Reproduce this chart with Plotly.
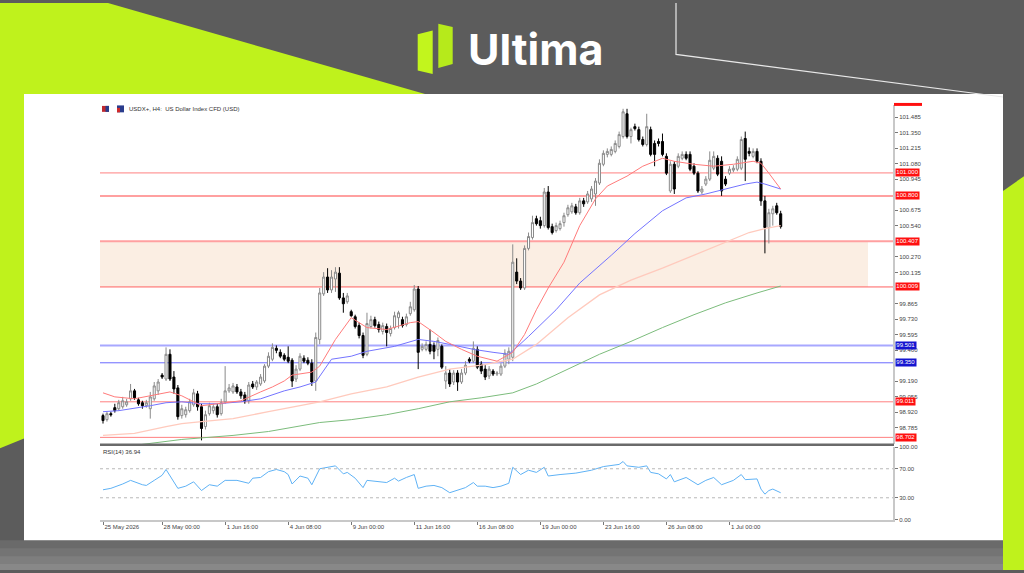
import plotly.graph_objects as go

W, H = 1024, 573


def px(x):
    return x / W


def py(y):
    return 1 - y / H


# ---------------- data ----------------
bars = list(range(173))
opens = [98.891, 98.856, 98.908, 98.960, 98.951, 98.968, 98.985, 99.037, 99.106, 99.028,
         99.003, 98.977, 98.951, 99.037, 99.106, 99.243, 99.209, 99.424, 99.226, 99.132,
         98.891, 98.899, 98.934, 98.985, 99.080, 98.968, 98.796, 98.908, 98.934, 98.968,
         98.908, 99.011, 99.106, 99.097, 99.140, 99.097, 99.071, 99.020, 99.166, 99.140,
         99.166, 99.192, 99.321, 99.381, 99.476, 99.441, 99.415, 99.398, 99.372, 99.209,
         99.295, 99.390, 99.372, 99.347, 99.192, 99.553, 99.949, 100.095, 99.983, 100.078,
         100.129, 99.914, 99.880, 99.794, 99.750, 99.673, 99.587, 99.424, 99.665, 99.725,
         99.682, 99.622, 99.665, 99.604, 99.656, 99.742, 99.725, 99.682, 99.777, 99.811,
         99.991, 99.467, 99.467, 99.510, 99.501, 99.467, 99.493, 99.192, 99.261, 99.183,
         99.261, 99.183, 99.261, 99.381, 99.364, 99.467, 99.338, 99.295, 99.235, 99.278,
         99.252, 99.252, 99.321, 99.381, 99.398, 100.138, 100.060, 100.000, 100.344, 100.439,
         100.602, 100.585, 100.542, 100.834, 100.533, 100.499, 100.516, 100.568, 100.637, 100.662,
         100.705, 100.654, 100.757, 100.748, 100.774, 100.817, 100.912, 101.075, 101.161, 101.161,
         101.187, 101.230, 101.316, 101.514, 101.316, 101.402, 101.376, 101.290, 101.247, 101.376,
         101.256, 101.273, 101.273, 101.144, 100.843, 101.075, 101.058, 101.127, 101.161, 101.161,
         101.058, 100.998, 100.834, 100.903, 100.946, 101.041, 101.127, 101.101, 100.946, 100.998,
         101.024, 101.032, 101.041, 101.299, 101.187, 101.144, 101.187, 101.101, 100.757, 100.525,
         100.645, 100.714, 100.645]
highs = [98.908, 98.925, 98.925, 98.994, 99.028, 99.054, 99.037, 99.166, 99.123, 99.046,
         99.020, 99.028, 99.097, 99.183, 99.209, 99.261, 99.484, 99.467, 99.278, 99.157,
         98.985, 98.968, 99.037, 99.123, 99.106, 98.994, 98.934, 99.003, 98.994, 98.994,
         99.037, 99.321, 99.166, 99.175, 99.166, 99.123, 99.097, 99.183, 99.192, 99.200,
         99.252, 99.338, 99.441, 99.519, 99.501, 99.467, 99.433, 99.493, 99.390, 99.329,
         99.433, 99.415, 99.398, 99.381, 99.613, 100.000, 100.138, 100.172, 100.155, 100.181,
         100.181, 99.957, 99.957, 99.811, 99.768, 99.699, 99.613, 99.785, 99.759, 99.750,
         99.708, 99.699, 99.691, 99.673, 99.794, 99.802, 99.750, 99.777, 99.880, 100.026,
         100.017, 99.519, 99.536, 99.639, 99.527, 99.570, 99.510, 99.321, 99.295, 99.286,
         99.286, 99.295, 99.364, 99.398, 99.536, 99.493, 99.364, 99.329, 99.321, 99.295,
         99.278, 99.347, 99.467, 99.484, 100.379, 100.258, 100.086, 100.370, 100.482, 100.628,
         100.628, 100.619, 100.869, 100.886, 100.559, 100.568, 100.585, 100.654, 100.723, 100.740,
         100.731, 100.783, 100.783, 100.843, 100.886, 100.955, 101.118, 101.196, 101.213, 101.230,
         101.282, 101.359, 101.557, 101.557, 101.393, 101.428, 101.402, 101.316, 101.514, 101.402,
         101.282, 101.299, 101.342, 101.170, 101.101, 101.101, 101.170, 101.187, 101.187, 101.187,
         101.084, 101.015, 100.886, 100.972, 101.187, 101.187, 101.153, 101.144, 100.972, 101.058,
         101.067, 101.144, 101.316, 101.359, 101.221, 101.213, 101.213, 101.127, 100.800, 100.688,
         100.714, 100.740, 100.671]
lows = [98.822, 98.839, 98.882, 98.917, 98.934, 98.951, 98.968, 99.020, 99.028, 98.977,
        98.951, 98.960, 98.865, 99.020, 99.071, 99.209, 99.192, 99.192, 99.080, 98.856,
        98.865, 98.874, 98.917, 98.968, 98.934, 98.676, 98.770, 98.891, 98.908, 98.874,
        98.891, 98.994, 99.089, 99.080, 99.080, 99.037, 98.994, 98.994, 99.123, 99.114,
        99.149, 99.175, 99.304, 99.364, 99.433, 99.390, 99.364, 99.347, 99.140, 99.183,
        99.278, 99.347, 99.329, 99.149, 99.106, 99.510, 99.931, 99.957, 99.957, 99.966,
        99.897, 99.785, 99.863, 99.750, 99.648, 99.562, 99.390, 99.407, 99.648, 99.656,
        99.613, 99.596, 99.493, 99.579, 99.639, 99.648, 99.656, 99.665, 99.759, 99.794,
        99.295, 99.450, 99.450, 99.424, 99.381, 99.407, 99.295, 99.123, 99.140, 99.157,
        99.106, 99.166, 99.243, 99.347, 99.347, 99.295, 99.252, 99.200, 99.209, 99.235,
        99.235, 99.235, 99.304, 99.338, 99.364, 100.034, 99.983, 99.983, 100.327, 100.421,
        100.542, 100.516, 100.525, 100.508, 100.465, 100.482, 100.499, 100.533, 100.619, 100.645,
        100.637, 100.637, 100.705, 100.731, 100.748, 100.714, 100.895, 101.058, 101.135, 101.144,
        101.170, 101.213, 101.299, 101.299, 101.256, 101.368, 101.273, 101.230, 101.230, 101.144,
        101.058, 101.230, 101.144, 100.981, 100.826, 100.817, 101.041, 101.110, 101.110, 101.015,
        100.981, 100.826, 100.817, 100.886, 100.929, 101.024, 100.972, 100.800, 100.886, 100.981,
        101.006, 101.015, 101.024, 100.929, 101.144, 101.127, 101.084, 100.714, 100.301, 100.387,
        100.542, 100.637, 100.516]
closes = [98.848, 98.908, 98.899, 98.934, 99.003, 99.020, 99.011, 99.106, 99.046, 98.994,
          98.977, 99.003, 99.054, 99.149, 99.183, 99.226, 99.424, 99.209, 99.123, 98.882,
          98.951, 98.942, 99.011, 99.089, 98.968, 98.779, 98.899, 98.977, 98.968, 98.899,
          99.003, 99.106, 99.132, 99.149, 99.097, 99.063, 99.020, 99.157, 99.140, 99.183,
          99.226, 99.321, 99.407, 99.484, 99.458, 99.407, 99.381, 99.364, 99.192, 99.295,
          99.407, 99.364, 99.347, 99.183, 99.570, 99.957, 100.095, 99.983, 100.095, 100.138,
          99.914, 99.863, 99.931, 99.759, 99.665, 99.587, 99.415, 99.691, 99.725, 99.673,
          99.639, 99.673, 99.613, 99.648, 99.759, 99.785, 99.673, 99.750, 99.837, 99.991,
          99.441, 99.493, 99.510, 99.450, 99.450, 99.544, 99.312, 99.261, 99.166, 99.261,
          99.183, 99.261, 99.329, 99.364, 99.476, 99.312, 99.278, 99.226, 99.295, 99.252,
          99.261, 99.321, 99.433, 99.450, 100.224, 100.060, 100.000, 100.344, 100.447, 100.568,
          100.559, 100.542, 100.834, 100.525, 100.482, 100.542, 100.559, 100.628, 100.697, 100.714,
          100.654, 100.757, 100.731, 100.817, 100.860, 100.929, 101.084, 101.170, 101.187, 101.204,
          101.256, 101.333, 101.531, 101.316, 101.376, 101.385, 101.290, 101.247, 101.402, 101.161,
          101.161, 101.256, 101.161, 100.998, 101.075, 100.860, 101.144, 101.161, 101.127, 101.032,
          100.998, 100.843, 100.860, 100.946, 101.110, 101.144, 100.989, 100.843, 100.903, 101.032,
          101.041, 101.118, 101.290, 101.118, 101.170, 101.187, 101.101, 100.757, 100.525, 100.654,
          100.688, 100.654, 100.533]

tick_bars = [0, 15, 31, 47, 63, 79, 95, 111, 127, 143, 159]
tick_labels = ["25 May 2026", "28 May 00:00", "1 Jun 16:00", "4 Jun 08:00", "9 Jun 00:00",
               "11 Jun 16:00", "16 Jun 08:00", "19 Jun 00:00", "23 Jun 16:00", "26 Jun 08:00",
               "1 Jul 00:00"]

# price scale labels that are not hidden behind the level boxes
price_ticks = [101.485, 101.350, 101.215, 101.080, 100.945, 100.675, 100.540,
               100.270, 100.135, 99.865, 99.730, 99.595, 99.460,
               99.190, 99.055, 98.920, 98.785]

# moving averages
ma_fast_bars = [0, 3, 8, 14, 17, 20, 25, 29, 35, 40, 43, 46, 48, 53, 55, 59, 63, 67, 72, 78,
                80, 84, 87, 91, 95, 100, 104, 107, 110, 113, 117, 121, 125, 128, 133, 137,
                142, 145, 150, 155, 160, 165, 167, 169, 172]
ma_fast_vals = [99.089, 99.054, 99.037, 99.080, 99.097, 99.063, 98.977, 98.994, 99.020, 99.097,
                99.140, 99.192, 99.243, 99.269, 99.321, 99.553, 99.742, 99.656, 99.639, 99.699,
                99.708, 99.613, 99.536, 99.467, 99.407, 99.364, 99.441, 99.596, 99.811, 100.000,
                100.224, 100.542, 100.774, 100.886, 100.972, 101.058, 101.127, 101.101, 101.075,
                101.058, 101.075, 101.101, 101.084, 100.998, 100.860]

ma_mid_bars = [0, 4, 12, 16, 20, 25, 29, 35, 40, 46, 50, 54, 58, 63, 67, 74, 80, 84, 88, 94,
               99, 103, 105, 108, 115, 121, 129, 135, 142, 148, 153, 158, 163, 166, 168, 172]
ma_mid_vals = [98.925, 98.934, 98.977, 99.003, 99.011, 98.994, 98.994, 99.011, 99.037, 99.106,
               99.140, 99.183, 99.381, 99.407, 99.450, 99.493, 99.553, 99.536, 99.510, 99.467,
               99.441, 99.424, 99.484, 99.579, 99.811, 100.043, 100.284, 100.473, 100.671,
               100.783, 100.817, 100.860, 100.903, 100.920, 100.903, 100.860]

ma_slow_bars = [0, 8, 16, 20, 25, 33, 42, 50, 55, 63, 72, 80, 88, 96, 104, 110, 118, 126,
                134, 142, 150, 158, 164, 168, 172]
ma_slow_vals = [98.719, 98.736, 98.796, 98.822, 98.839, 98.865, 98.925, 98.977, 99.011, 99.080,
                99.140, 99.226, 99.295, 99.329, 99.381, 99.510, 99.742, 99.940, 100.069,
                100.172, 100.284, 100.396, 100.482, 100.516, 100.542]

ma_long_bars = [5, 10, 20, 33, 42, 50, 55, 63, 72, 80, 88, 96, 104, 110, 118, 126, 134, 142,
                150, 158, 166, 172]
ma_long_vals = [98.607, 98.641, 98.684, 98.719, 98.753, 98.805, 98.831, 98.856, 98.899, 98.951,
                99.011, 99.046, 99.089, 99.166, 99.295, 99.424, 99.536, 99.656, 99.768, 99.871,
                99.957, 100.017]

rsi_bars = [0, 2, 5, 7, 10, 11, 13, 15, 16, 19, 21, 23, 25, 27, 29, 31, 34, 37, 38, 40, 42,
            44, 46, 47, 48, 50, 52, 53, 55, 57, 59, 61, 62, 64, 66, 67, 70, 72, 74, 75, 77,
            79, 80, 82, 84, 86, 88, 90, 92, 94, 95, 97, 99, 101, 103, 104, 106, 108, 110,
            112, 113, 116, 120, 124, 127, 131, 132, 133, 136, 138, 139, 141, 143, 144, 145,
            148, 151, 153, 155, 157, 160, 162, 163, 166, 167, 168, 169, 170, 171, 172]
rsi_vals = [41, 43, 49, 54, 48, 47, 54, 61, 69, 43, 46, 52, 40, 48, 46, 54, 54, 50, 57, 58,
            66, 69, 66, 62, 49, 60, 57, 48, 70, 72, 74, 63, 65, 57, 44, 54, 52, 51, 57, 53,
            58, 62, 43, 46, 47, 44, 37, 40, 44, 51, 46, 46, 44, 46, 50, 72, 62, 68, 65, 72,
            60, 62, 64, 68, 73, 76, 80, 74, 72, 74, 65, 63, 56, 62, 52, 58, 48, 54, 58, 48,
            54, 62, 55, 56, 42, 35, 40, 42, 40, 36.94]

# horizontal levels
levels = [101.000, 100.800, 100.407, 100.009, 99.501, 99.350, 99.011, 98.702]
level_text = ["101.000", "100.800", "100.407", "100.009", "99.501", "99.350", "99.011", "98.702"]
zone_low, zone_high = 100.009, 100.407

# ---------------- styles ----------------
level_line_colors = ["#ff8080", "#ffa0a0", "#ffa0a0", "#ff6060", "#a8a8ff", "#6a6aff",
                     "#ff8080", "#ff8080"]
level_line_widths = [1, 2, 2, 1, 2, 1, 1, 1]
level_box_colors = ["#ff1010", "#ff1010", "#ff1010", "#ff1010", "#1515d0", "#1515d0",
                    "#ff1010", "#ff1010"]

X_LEFT, X_RIGHT = 100, 893
Y_TOP, Y_SEP, Y_RSI_TOP, Y_BOT = 103, 446, 448.7, 522
bar_px = 3.94
x0_px = 103
xr = [(X_LEFT - x0_px) / bar_px, (X_RIGHT - x0_px) / bar_px]

p_top = 101.485 + (115.3 - Y_TOP) / 116.3
p_bot = 101.485 - (Y_SEP - 115.3) / 116.3

LIME = "#bff21c"
GREY = "#5c5c5c"
FONT = "Liberation Sans"

fig = go.Figure()

fig.add_trace(go.Candlestick(
    x=bars, open=opens, high=highs, low=lows, close=closes,
    increasing=dict(fillcolor="white", line=dict(color="#8a8a8a", width=1)),
    decreasing=dict(fillcolor="#000000", line=dict(color="#000000", width=1)),
    whiskerwidth=0, showlegend=False, hoverinfo="skip", xaxis="x", yaxis="y"))

for bx, vals, col, w in [
        (ma_long_bars, ma_long_vals, "#7cbc7c", 1),
        (ma_slow_bars, ma_slow_vals, "#ffcabd", 1.3),
        (ma_mid_bars, ma_mid_vals, "#7474ff", 1),
        (ma_fast_bars, ma_fast_vals, "#ff7a7a", 1)]:
    fig.add_trace(go.Scatter(x=bx, y=vals, mode="lines", line=dict(color=col, width=w),
                             showlegend=False, hoverinfo="skip", xaxis="x", yaxis="y"))

fig.add_trace(go.Scatter(x=rsi_bars, y=rsi_vals, mode="lines",
                         line=dict(color="#5fb2f5", width=1), showlegend=False,
                         hoverinfo="skip", xaxis="x2", yaxis="y2"))

shapes = []
# background decorations
shapes.append(dict(type="path", xref="paper", yref="paper", layer="below",
                   path=f"M 0,{py(0)} L {px(108)},{py(0)} L {px(425)},{py(92)} L {px(24)},{py(92)} "
                        f"L {px(24)},{py(440)} L 0,{py(450)} Z",
                   fillcolor=LIME, line=dict(width=0)))
shapes.append(dict(type="path", xref="paper", yref="paper", layer="below",
                   path=f"M {px(1003)},{py(190)} L {px(1024)},{py(175)} L {px(1024)},{py(573)} "
                        f"L {px(1003)},{py(573)} Z",
                   fillcolor=LIME, line=dict(width=0)))
for i, c in enumerate(["#6a6a6a", "#747474", "#7e7e7e", "#888888"]):
    shapes.append(dict(type="rect", xref="paper", yref="paper", layer="below",
                       x0=0, x1=px(1003), y0=py(543 + 8 * i), y1=py(573),
                       fillcolor=c, line=dict(width=0)))
shapes.append(dict(type="rect", xref="paper", yref="paper", layer="below",
                   x0=px(24), x1=px(1003), y0=py(543), y1=py(92),
                   fillcolor="white", line=dict(width=0)))
shapes.append(dict(type="path", xref="paper", yref="paper", layer="below",
                   path=f"M {px(676)},{py(0)} L {px(676)},{py(52)} L {px(1003)},{py(95)}",
                   line=dict(color="#e8e8e8", width=1.2)))
# logo icon
shapes.append(dict(type="path", xref="paper", yref="paper", layer="above",
                   path=f"M {px(417.7)},{py(31.7)} L {px(432.7)},{py(27.7)} L {px(432.7)},{py(71.7)} "
                        f"L {px(417.7)},{py(68.3)} Z",
                   fillcolor="#c2f51d", line=dict(width=0)))
shapes.append(dict(type="path", xref="paper", yref="paper", layer="above",
                   path=f"M {px(438.3)},{py(21)} L {px(452.7)},{py(24.3)} L {px(452.7)},{py(61.7)} "
                        f"L {px(438.3)},{py(65.7)} Z",
                   fillcolor="#b6ea1b", line=dict(width=0)))
# header icons
shapes.append(dict(type="rect", xref="paper", yref="paper", x0=px(102), x1=px(109),
                   y0=py(110), y1=py(104), fillcolor="#c0282d", line=dict(width=0)))
shapes.append(dict(type="rect", xref="paper", yref="paper", x0=px(105.5), x1=px(109),
                   y0=py(110), y1=py(104), fillcolor="#2a3c8c", line=dict(width=0)))
shapes.append(dict(type="rect", xref="paper", yref="paper", x0=px(117), x1=px(124),
                   y0=py(110.5), y1=py(103.5), fillcolor="#2a3c8c", line=dict(width=0)))
shapes.append(dict(type="rect", xref="paper", yref="paper", x0=px(117), x1=px(120),
                   y0=py(110.5), y1=py(106), fillcolor="#d02a2a", line=dict(width=0)))

# zone
shapes.append(dict(type="rect", xref="x", yref="y", layer="below",
                   x0=xr[0], x1=(868 - x0_px) / bar_px, y0=zone_low, y1=zone_high,
                   fillcolor="#fbeee3", line=dict(width=0)))
# level lines
for lv, col, wd in zip(levels, level_line_colors, level_line_widths):
    shapes.append(dict(type="line", xref="x", yref="y", layer="below",
                       x0=xr[0], x1=xr[1], y0=lv, y1=lv, line=dict(color=col, width=wd)))
# rsi dotted levels
for lv in [70, 30]:
    shapes.append(dict(type="line", xref="x2", yref="y2", x0=xr[0], x1=xr[1], y0=lv, y1=lv,
                       line=dict(color="#b8b8b8", width=1, dash="dot")))
# pane separator
shapes.append(dict(type="line", xref="paper", yref="paper", x0=px(X_LEFT), x1=px(X_RIGHT + 1),
                   y0=py(446.5), y1=py(446.5), line=dict(color="#6a6a6a", width=2.5)))
# top cut-off red label
shapes.append(dict(type="rect", xref="paper", yref="paper", x0=px(894), x1=px(922),
                   y0=py(104), y1=py(101), fillcolor="#ff1010", line=dict(width=0)))

annotations = []
for lv, txt, bc in zip(levels, level_text, level_box_colors):
    annotations.append(dict(xref="paper", yref="y", x=px(894.5), y=lv, xanchor="left",
                            yanchor="middle", text=txt, showarrow=False,
                            font=dict(family=FONT, size=6, color="white"),
                            bgcolor=bc, borderpad=0.3))
annotations.append(dict(xref="paper", yref="paper", x=px(127), y=py(107.5), xanchor="left",
                        yanchor="middle", text="USDX+, H4:  US Dollar Index CFD (USD)",
                        showarrow=False, font=dict(family=FONT, size=6, color="#333333")))
annotations.append(dict(xref="paper", yref="paper", x=px(101), y=py(454), xanchor="left",
                        yanchor="middle", text="RSI(14) 36.94", showarrow=False,
                        font=dict(family=FONT, size=6, color="#333333")))
annotations.append(dict(xref="paper", yref="paper", x=px(535), y=py(46), xanchor="center",
                        yanchor="middle", text="Ultima", showarrow=False,
                        font=dict(family="Inter", size=43, color="white", weight=700)))

axis_font = dict(family=FONT, size=6, color="#444444")

fig.update_layout(
    width=W, height=H, margin=dict(l=0, r=0, t=0, b=0),
    paper_bgcolor=GREY, plot_bgcolor="rgba(0,0,0,0)",
    showlegend=False,
    xaxis=dict(domain=[px(X_LEFT), px(X_RIGHT)], range=xr, anchor="y",
               showticklabels=False, showgrid=False, zeroline=False, ticks="",
               rangeslider=dict(visible=False), showline=False, fixedrange=True),
    yaxis=dict(domain=[py(Y_SEP), py(Y_TOP)], range=[p_bot, p_top], anchor="x", side="right",
               tickvals=price_ticks, ticktext=[f"{v:.3f}" for v in price_ticks],
               ticks="outside", ticklen=3, tickcolor="#777777", tickfont=axis_font,
               showgrid=False, zeroline=False, showline=True, linecolor="#c8c8c8",
               linewidth=2),
    xaxis2=dict(domain=[px(X_LEFT), px(X_RIGHT)], range=xr, anchor="y2",
                tickvals=tick_bars, ticktext=tick_labels, ticks="outside", ticklen=3,
                tickcolor="#777777", tickfont=axis_font, ticklabelposition="outside right",
                showgrid=False, zeroline=False, showline=True, linecolor="#c8c8c8",
                linewidth=2),
    yaxis2=dict(domain=[py(Y_BOT), py(Y_RSI_TOP)], range=[0, 100], anchor="x2", side="right",
                tickvals=[0, 30, 70, 100], ticktext=["0.00", "30.00", "70.00", "100.00"],
                ticks="outside", ticklen=3, tickcolor="#777777", tickfont=axis_font,
                showgrid=False, zeroline=False, showline=True, linecolor="#c8c8c8",
                linewidth=2),
    shapes=shapes, annotations=annotations,
    boxgap=0.25,
)

fig.write_html("out.html")
